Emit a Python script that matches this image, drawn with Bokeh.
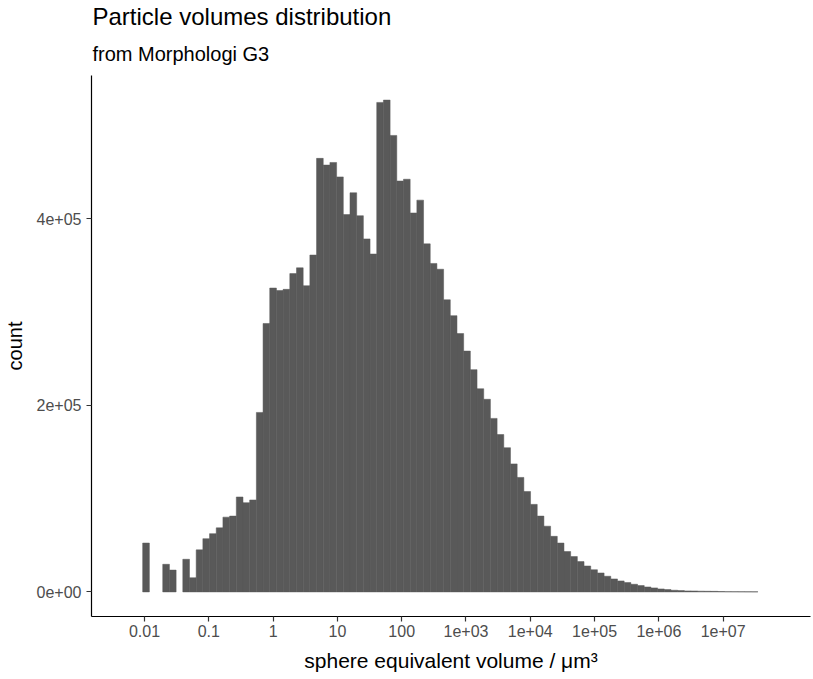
import numpy as np
from bokeh.plotting import figure
from bokeh.models import Range1d, FixedTicker, Title, ColumnDataSource
from bokeh.embed import file_html
from bokeh.resources import INLINE

# ---- data ----
counts = [52400, 0, 0, 29600, 23400, 0, 35000, 15200, 45100, 57100,
          62500, 68700, 80200, 81300, 101800, 95700, 98600, 192500, 287900, 325900,
          323300, 324500, 341400, 347600, 328400, 361300, 465000, 457800, 460600, 445100,
          404700, 428100, 403500, 378600, 362400, 525000, 527500, 489600, 440700, 442600,
          406400, 420200, 373300, 352300, 346100, 313300, 296300, 277100, 258300, 238400,
          217900, 206600, 186100, 168800, 154700, 137300, 122800, 107700, 93900, 81300,
          70500, 59600, 52400, 43300, 37900, 32500, 27800, 23800, 20300, 16800,
          13900, 11800, 10000, 8200, 6800, 5300, 4300, 3200, 2500, 1800,
          1400, 1100, 1000, 800, 700, 600, 400, 300, 250, 200, 150, 100]
bin_start_log10 = -2.028
bin_width_log10 = 0.104
x_ticks = [0.01, 0.1, 1, 10, 100, 1e3, 1e4, 1e5, 1e6, 1e7]
x_tick_labels = ["0.01", "0.1", "1", "10", "100", "1e+03", "1e+04", "1e+05", "1e+06", "1e+07"]
y_ticks = [0, 200000, 400000]
y_tick_labels = ["0e+00", "2e+05", "4e+05"]

title_text = "Particle volumes distribution"
subtitle_text = "from Morphologi G3"
x_label = "sphere equivalent volume / \u03bcm\u00b3"
y_label = "count"

# ---- build ----
edges = bin_start_log10 + bin_width_log10 * np.arange(len(counts) + 1)
c = np.array(counts, dtype=float)
mask = c > 0
src = ColumnDataSource(dict(left=(10 ** edges[:-1])[mask],
                            right=(10 ** edges[1:])[mask],
                            top=c[mask]))

ymax = c.max()
FONT = "Liberation Sans"
FRAME_W = 719
PX_PER_DECADE = 64.3
X_LEFT_LOG = -2.824

p = figure(width=813, height=679, x_axis_type="log",
           x_range=Range1d(10 ** X_LEFT_LOG, 10 ** (X_LEFT_LOG + FRAME_W / PX_PER_DECADE)),
           y_range=Range1d(-0.05 * ymax, 1.05 * ymax),
           output_backend="svg", toolbar_location=None,
           min_border_left=91, min_border_right=3,
           min_border_top=0, min_border_bottom=63)

p.quad(left="left", right="right", top="top", bottom=0, source=src,
       fill_color="#595959", line_color="#595959", line_width=0.5)

p.add_layout(Title(text=subtitle_text, text_font_size="20px", text_font=FONT,
                   text_font_style="normal", text_color="black",
                   align="left", offset=1, standoff=22), "above")
p.add_layout(Title(text=title_text, text_font_size="24px", text_font=FONT,
                   text_font_style="normal", text_color="black",
                   align="left", offset=1, standoff=0), "above")

p.xgrid.visible = False
p.ygrid.visible = False
p.outline_line_color = None
p.background_fill_color = "white"
p.border_fill_color = "white"

for ax in (p.xaxis[0], p.yaxis[0]):
    ax.axis_line_color = "black"
    ax.axis_line_width = 1.2
    ax.major_tick_line_color = "#333333"
    ax.major_tick_line_width = 1.2
    ax.major_tick_out = 5
    ax.major_tick_in = 0
    ax.minor_tick_out = 0
    ax.minor_tick_in = 0
    ax.major_label_text_font = FONT
    ax.major_label_text_font_size = "16px"
    ax.major_label_text_color = "#4D4D4D"
    ax.axis_label_text_font = FONT
    ax.axis_label_text_font_style = "normal"
    ax.axis_label_text_color = "black"

p.xaxis.ticker = FixedTicker(ticks=x_ticks, minor_ticks=[])
p.xaxis.major_label_overrides = dict(zip(x_ticks, x_tick_labels))
p.xaxis.axis_label = x_label
p.xaxis.axis_label_text_font_size = "21px"
p.xaxis.major_label_standoff = 3
p.xaxis.axis_label_standoff = 9

p.yaxis.ticker = FixedTicker(ticks=y_ticks, minor_ticks=[])
p.yaxis.major_label_overrides = dict(zip(y_ticks, y_tick_labels))
p.yaxis.axis_label = y_label
p.yaxis.axis_label_text_font_size = "20px"
p.yaxis.major_label_standoff = 5
p.yaxis.axis_label_standoff = 8

open("out.html", "w").write(file_html(p, INLINE))
